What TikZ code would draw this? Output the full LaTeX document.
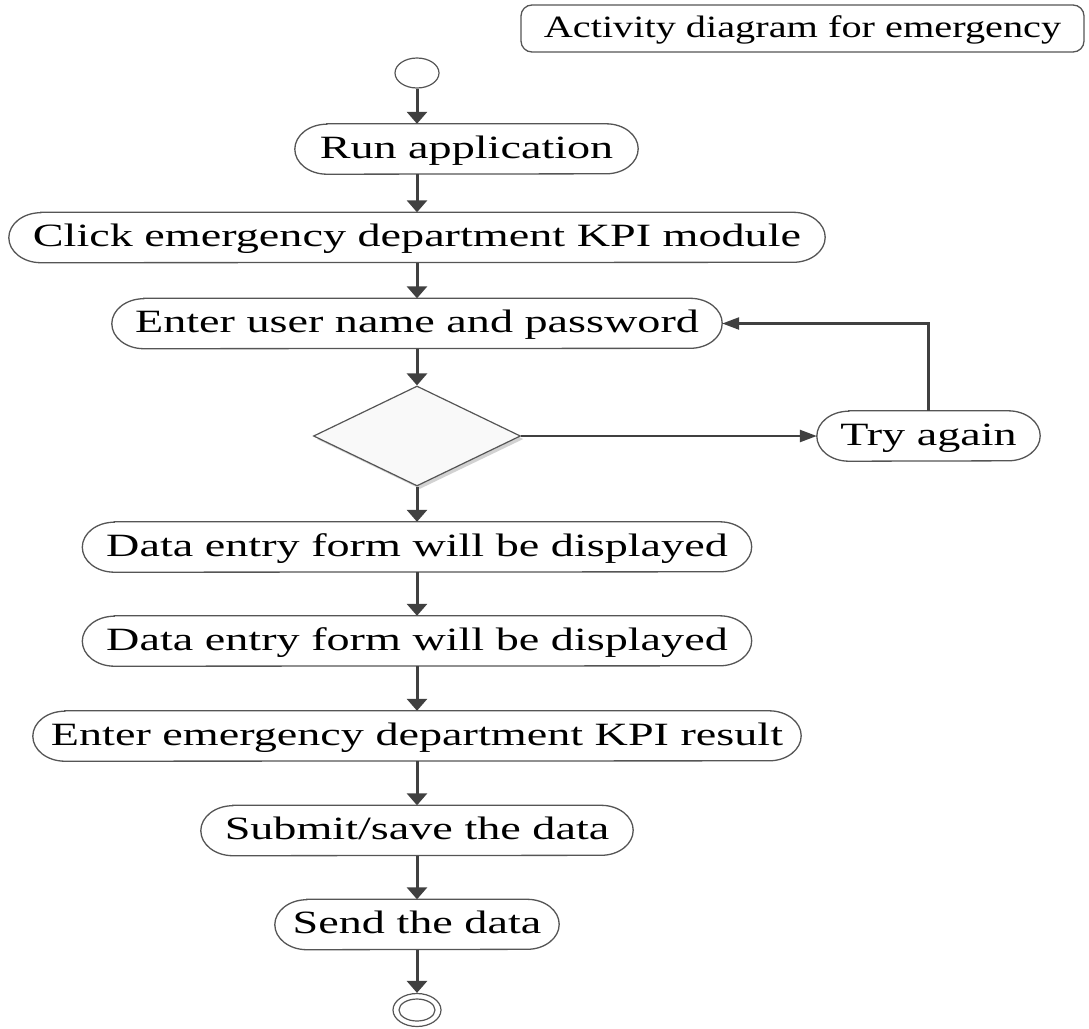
\documentclass[tikz,border=0pt]{standalone}
\usepackage{fontspec}
\setmainfont{Liberation Serif}[FakeStretch=1.42]
\newfontfamily\titlefont{Liberation Serif}[FakeStretch=1.3]
\usetikzlibrary{arrows.meta,shapes.geometric,shadows}
\definecolor{linec}{HTML}{404040}
\definecolor{boxc}{HTML}{555555}
\tikzset{
  x=1pt,y=1pt,
  actbox/.style={draw=none, minimum height=50pt, inner sep=0pt, text height=22pt, text depth=4pt, font=\fontsize{32.5pt}{36pt}\selectfont},
  outline/.style={draw=boxc, line width=1.3pt},
  varrow/.style={draw=linec, line width=3pt, -{Triangle[length=12pt,width=20pt]}},
  harrow/.style={draw=linec, line width=2.5pt, -{Triangle[length=17pt,width=12pt]}},
}
\begin{document}
\begin{tikzpicture}
\useasboundingbox (0,0) rectangle (1089,-1028);

\node[draw=boxc, line width=1.3pt, rounded corners=11pt, minimum width=563pt, minimum height=47pt, inner sep=0pt, text height=21pt, text depth=4pt, font=\titlefont\fontsize{31pt}{34pt}\selectfont] (title) at (802.5,-28.5) {Activity diagram for emergency};

\node[draw=boxc, line width=1.2pt, ellipse, minimum width=44pt, minimum height=30pt, inner sep=0pt] (start) at (417,-73) {};

\node[actbox, minimum width=343pt] (run) at (466.5,-149) {Run application};
\node[actbox, minimum width=816pt] (click) at (417,-237.5) {Click emergency department KPI module};
\node[actbox, minimum width=610pt] (enter) at (417,-323.5) {Enter user name and password};
\node[diamond, draw=boxc, line width=1.2pt, fill=gray!5, aspect=2.07, minimum width=207pt, minimum height=100pt, inner sep=0pt,
      drop shadow={shadow xshift=3pt, shadow yshift=-3pt, fill=gray!35, opacity=1}] (dec) at (417,-436) {};
\node[actbox, minimum width=223pt] (try) at (928.5,-436) {Try again};
\node[actbox, minimum width=669pt] (data1) at (417,-547) {Data entry form will be displayed};
\node[actbox, minimum width=669pt] (data2) at (417,-641) {Data entry form will be displayed};
\node[actbox, minimum width=768pt] (result) at (417,-736) {Enter emergency department KPI result};
\node[actbox, minimum width=432pt] (submit) at (417,-830.5) {Submit/save the data};
\node[actbox, minimum width=284pt] (send) at (417,-924.5) {Send the data};

\node[draw=boxc, line width=1.2pt, ellipse, minimum width=48pt, minimum height=33pt, inner sep=0pt] (stop) at (417,-1010) {};
\node[draw=boxc, line width=1.2pt, ellipse, minimum width=36pt, minimum height=22pt, inner sep=0pt] (stopin) at (stop.center) {};

\foreach \n in {run,click,enter,try,data1,data2,result,submit,send}{
  \draw[outline] ([xshift=32pt]\n.north west) -- ([xshift=-32pt]\n.north east)
    arc[start angle=90, end angle=-90, x radius=32pt, y radius=25pt]
    -- ([xshift=32pt]\n.south west)
    arc[start angle=270, end angle=90, x radius=32pt, y radius=25pt] -- cycle;
}

\draw[varrow] (start.south) -- (start.south |- run.north);
\draw[varrow] (run.south -| start.south) -- (click.north);
\draw[varrow] (click.south) -- (enter.north);
\draw[varrow] (enter.south) -- (dec.north);
\draw[harrow] (dec.east) -- (try.west);
\draw[harrow] (try.north) |- (enter.east);
\draw[varrow] (dec.south) -- (data1.north);
\draw[varrow] (data1.south) -- (data2.north);
\draw[varrow] (data2.south) -- (result.north);
\draw[varrow] (result.south) -- (submit.north);
\draw[varrow] (submit.south) -- (send.north);
\draw[varrow] (send.south) -- (stop.north);
\end{tikzpicture}
\end{document}
